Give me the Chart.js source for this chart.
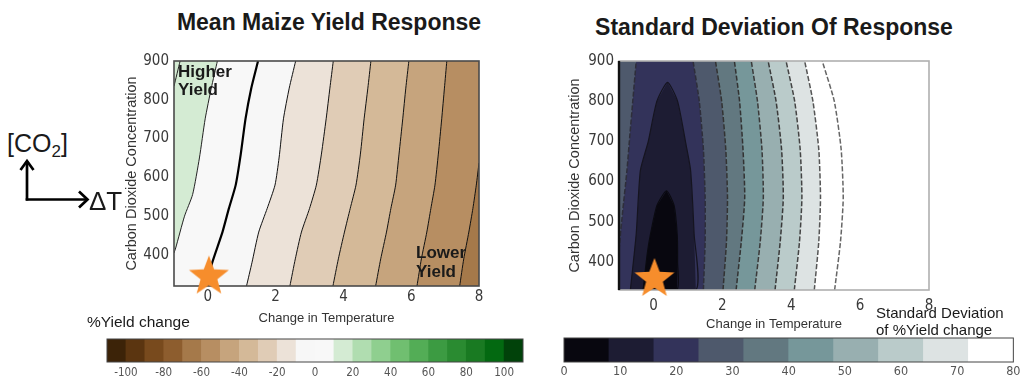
<!DOCTYPE html>
<html>
<head>
<meta charset="utf-8">
<script src="https://cdn.jsdelivr.net/npm/chart.js@4.4.1/dist/chart.umd.min.js"></script>
<style>
body { margin: 0; background: #fff; width: 1023px; height: 378px; position: relative; overflow: hidden; font-family: Arial, "Liberation Sans", sans-serif; color: #1a1a1a; }
canvas, .abs { position: absolute; }
.title { position: absolute; width: 500px; text-align: center; font-weight: bold; font-size: 23px; line-height: 26px; }
.note { position: absolute; font-weight: bold; font-size: 17px; line-height: 18px; }
.lbl { position: absolute; font-size: 15px; line-height: 16px; white-space: nowrap; }
</style>
</head>
<body>
<canvas id="mean" width="400" height="292" style="left:100px;top:40px"></canvas>
<canvas id="sd" width="400" height="292" style="left:555px;top:40px"></canvas>
<canvas id="meanBar" width="450" height="48" style="left:90px;top:330px"></canvas>
<canvas id="sdBar" width="473" height="48" style="left:550px;top:330px"></canvas>

<div class="title" style="left:79px;top:9px">Mean Maize Yield Response</div>
<div class="title" style="left:524px;top:14px">Standard Deviation Of Response</div>
<div class="note" style="left:178px;top:63px">Higher<br>Yield</div>
<div class="note" style="left:416px;top:243px;line-height:19px">Lower<br>Yield</div>
<div class="lbl" style="left:87px;top:314px;font-size:15.5px">%Yield change</div>
<div class="lbl" style="left:876px;top:304px;line-height:17px">Standard Deviation<br>of %Yield change</div>
<div class="lbl" style="left:7px;top:131px;font-size:25px;line-height:25px">[CO<sub style="font-size:17px;vertical-align:-5px">2</sub>]</div>
<div class="lbl" style="left:89px;top:188px;font-size:26px;line-height:26px">&Delta;T</div>
<svg class="abs" style="left:0;top:0" width="100" height="230">
  <g fill="none" stroke="#000" stroke-width="2.7">
    <line x1="27" y1="200.5" x2="27" y2="161"/>
    <polyline points="20.5,170 27,161 33.5,170"/>
    <line x1="25.7" y1="199.5" x2="87" y2="199.5"/>
    <polyline points="79,191.5 87.5,199.5 79,207.5"/>
  </g>
</svg>

<script>
// ---- mean yield response: contour lines [ΔT, CO2], read bottom to top ----
const meanXTicks = [0, 2, 4, 6, 8];
const meanYTicks = [400, 500, 600, 700, 800, 900];
const meanPlus20 = [[-1, 835], [-0.82, 900]];
const meanPlus10 = [[-1, 405], [-0.95, 418], [-0.69, 500], [-0.45, 556], [-0.25, 650], [-0.08, 751], [0.1, 830], [0.28, 900]];
const meanZero = [[0, 320], [0.05, 350], [0.13, 381], [0.43, 459], [0.62, 520], [0.82, 580], [0.97, 660], [1.11, 751], [1.28, 830], [1.48, 900]];
const meanMinus10 = [[1.14, 320], [1.3, 380], [1.5, 459], [1.75, 520], [1.98, 580], [2.1, 650], [2.23, 751], [2.4, 830], [2.59, 900]];
const meanMinus20 = [[2.42, 320], [2.58, 390], [2.76, 459], [3.0, 520], [3.2, 580], [3.35, 660], [3.49, 751], [3.6, 830], [3.7, 900]];
const meanMinus30 = [[3.69, 320], [3.85, 390], [4.03, 459], [4.2, 520], [4.37, 580], [4.5, 660], [4.61, 751], [4.72, 830], [4.81, 900]];
const meanMinus40 = [[4.95, 320], [5.1, 390], [5.27, 459], [5.4, 520], [5.54, 580], [5.64, 660], [5.75, 751], [5.84, 830], [5.93, 900]];
const meanMinus50 = [[6.17, 320], [6.3, 390], [6.46, 459], [6.58, 520], [6.7, 580], [6.8, 660], [6.9, 751], [6.98, 830], [7.05, 900]];
const meanMinus60 = [[7.43, 320], [7.55, 390], [7.7, 459], [7.82, 520], [7.92, 580], [8, 637]];

// colour bar of %yield change
const meanLevels = [-110, -100, -90, -80, -70, -60, -50, -40, -30, -20, -10, 0, 10, 20, 30, 40, 50, 60, 70, 80, 90, 100, 110];
const meanBarTicks = [-100, -80, -60, -40, -20, 0, 20, 40, 60, 80, 100];
const meanColors = ['#3c2308', '#5b3510', '#784a1d', '#8d5d2e', '#a5794a', '#b78e62', '#c6a47d', '#d4b998', '#e0ccb6', '#ece2d8', '#f7f7f7',
  '#f8f8f8', '#d4ebd3', '#b0ddb0', '#8fcf8f', '#70bf70', '#53ad56', '#3c9b42', '#2a8b31', '#197a22', '#036911', '#01420a'];

// ---- standard deviation of response: contour lines [ΔT, CO2] ----
const sdXTicks = [0, 2, 4, 6, 8];
const sdYTicks = [400, 500, 600, 700, 800, 900];
const sdLineA = [[-1, 430], [-0.9, 520], [-0.77, 627], [-0.68, 720], [-0.6, 800], [-0.5, 900]];
const sdLineB = [[1.45, 330], [1.5, 450], [1.5, 560], [1.45, 680], [1.33, 800], [1.15, 900]];
const sdLineC = [[2.02, 330], [2.12, 450], [2.15, 560], [2.1, 680], [1.98, 800], [1.8, 900]];
const sdLineD = [[2.4, 330], [2.55, 450], [2.65, 560], [2.6, 680], [2.5, 800], [2.35, 900]];
const sdLineE = [[2.94, 330], [3.1, 450], [3.19, 560], [3.15, 680], [3.02, 800], [2.84, 900]];
const sdLineF = [[3.53, 330], [3.68, 450], [3.77, 560], [3.72, 680], [3.56, 800], [3.33, 900]];
const sdLineG = [[4.09, 330], [4.24, 450], [4.31, 560], [4.26, 680], [4.1, 800], [3.85, 900]];
const sdLineH = [[4.67, 330], [4.8, 450], [4.85, 560], [4.8, 680], [4.63, 800], [4.39, 900]];
const sdLineI = [[5.26, 330], [5.43, 450], [5.51, 560], [5.45, 680], [5.25, 800], [4.9, 900]];
const sdLoop16 = [[-0.67, 330], [-0.5, 470], [-0.38, 627], [-0.15, 700], [0.1, 800], [0.41, 847], [0.7, 800], [0.95, 690], [1.08, 627], [1.18, 470], [1.23, 330]];
const sdLoop8 = [[-0.3, 330], [-0.18, 420], [-0.09, 467], [0.1, 540], [0.38, 577], [0.6, 540], [0.69, 467], [0.7, 400], [0.68, 330]];

// colour bar of standard deviation
const sdLevels = [0, 8, 16, 24, 32, 40, 48, 56, 64, 72, 80];
const sdBarTicks = [0, 10, 20, 30, 40, 50, 60, 70, 80];
const sdColors = ['#08070f', '#1d1c33', '#33335a', '#4e596c', '#627880', '#76979a', '#98afb0', '#bacbca', '#dde3e3', '#ffffff'];

// present climate marker
const meanStar = {x: 0.03, y: 347};
const sdStar = {x: 0.03, y: 360};

const tickFont = '"Liberation Sans Narrow", "Arial Narrow", "DejaVu Sans Condensed", Arial, sans-serif';
const labelFont = 'Arial, "Liberation Sans", sans-serif';

function pts(list) {
  return list.map(p => ({x: p[0], y: p[1]}));
}

// polygon covering the plot to the left of a contour line
function leftOf(line, box) {
  const out = [[box.xMin, box.yMin]].concat(line);
  const last = line[line.length - 1];
  if (last[1] < box.yMax) out.push([box.xMax, box.yMax]);
  out.push([box.xMin, box.yMax]);
  return pts(out);
}

function starImage(r, color) {
  const c = document.createElement('canvas');
  c.width = c.height = Math.ceil(2 * r) + 2;
  const g = c.getContext('2d');
  const cx = c.width / 2, cy = c.height / 2 + 1;
  g.beginPath();
  for (let i = 0; i < 10; i++) {
    const rr = i % 2 ? r * 0.42 : r;
    const a = -Math.PI / 2 + i * Math.PI / 5;
    g.lineTo(cx + rr * Math.cos(a), cy + rr * Math.sin(a));
  }
  g.closePath();
  g.fillStyle = color;
  g.fill();
  return c;
}

const framePlugin = {
  id: 'frame',
  defaults: {color: '#333', width: 1, leftColor: '', before: ''},
  beforeDatasetDraw(chart, args, opts) {
    if (opts.before && chart.data.datasets[args.index].label === opts.before) drawFrame(chart, opts);
  },
  afterDatasetsDraw(chart, args, opts) {
    if (!opts.before) drawFrame(chart, opts);
  }
};

function drawFrame(chart, opts) {
  const {ctx, chartArea: a} = chart;
  ctx.save();
  ctx.strokeStyle = opts.color;
  ctx.lineWidth = opts.width;
  ctx.strokeRect(a.left, a.top, a.right - a.left, a.bottom - a.top);
  if (opts.leftColor) {
    ctx.strokeStyle = opts.leftColor;
    ctx.lineWidth = opts.width + 0.8;
    ctx.beginPath();
    ctx.moveTo(a.left, a.top);
    ctx.lineTo(a.left, a.bottom);
    ctx.stroke();
  }
  ctx.restore();
}
Chart.register(framePlugin);

function contourChart(id, s) {
  const datasets = [];
  s.fills.forEach(f => datasets.push({
    data: f.data, showLine: true, fill: 'shape', backgroundColor: f.color,
    borderWidth: 0, borderColor: 'transparent', pointRadius: 0, tension: 0
  }));
  s.lines.forEach(l => datasets.push({
    data: l.data, showLine: true, fill: false, borderColor: l.color, borderWidth: l.width,
    borderDash: l.dash || [], pointRadius: 0, tension: 0.2
  }));
  datasets.push({
    label: 'star', data: [s.star], showLine: false, pointStyle: starImage(21, '#f68d2c'),
    pointRadius: 20, clip: false
  });
  datasets.forEach((d, i) => { d.order = datasets.length - i; });

  new Chart(document.getElementById(id), {
    type: 'scatter',
    data: {datasets: datasets},
    options: {
      responsive: false,
      animation: false,
      events: [],
      layout: {padding: {left: 0, top: s.padTop, right: s.padRight, bottom: 0}},
      plugins: {
        legend: {display: false},
        tooltip: {enabled: false},
        frame: s.frame
      },
      scales: {
        x: {
          type: 'linear', min: s.box.xMin, max: s.box.xMax,
          afterBuildTicks: sc => { sc.ticks = s.xTicks.map(v => ({value: v})); },
          afterFit: sc => { sc.height = s.xAxisH; },
          grid: {display: false, drawTicks: false},
          border: {display: false},
          ticks: {color: '#3a3a3a', padding: s.xTickPad, font: {family: tickFont, size: 15}},
          title: {display: true, text: 'Change in Temperature', color: '#333',
            font: {family: labelFont, size: 13}, padding: {top: 0, bottom: s.xTitlePad}}
        },
        y: {
          type: 'linear', min: s.box.yMin, max: s.box.yMax,
          afterBuildTicks: sc => { sc.ticks = s.yTicks.map(v => ({value: v})); },
          afterFit: sc => { sc.width = s.yAxisW; },
          grid: {display: false, drawTicks: false},
          border: {display: false},
          ticks: {color: '#3a3a3a', padding: 5, font: {family: tickFont, size: 15}},
          title: {display: true, text: 'Carbon Dioxide Concentration', color: '#333',
            font: {family: labelFont, size: 14.5}, padding: {top: s.yTitlePad, bottom: 0}}
        }
      }
    }
  });
}

function colorBar(id, s) {
  const bands = [];
  for (let i = 0; i < s.levels.length - 1; i++) bands.push({x: [s.levels[i], s.levels[i + 1]], y: 'bar'});
  new Chart(document.getElementById(id), {
    type: 'bar',
    data: {labels: ['bar'], datasets: [{data: bands, backgroundColor: s.colors, borderWidth: 0,
      barPercentage: 1, categoryPercentage: 1}]},
    options: {
      indexAxis: 'y',
      responsive: false,
      animation: false,
      events: [],
      layout: {padding: {left: s.padLeft, top: s.padTop, right: s.padRight, bottom: 0}},
      plugins: {legend: {display: false}, tooltip: {enabled: false}, frame: {color: '#444', width: 1}},
      scales: {
        x: {
          type: 'linear', min: s.levels[0], max: s.levels[s.levels.length - 1],
          afterBuildTicks: sc => { sc.ticks = s.ticks.map(v => ({value: v})); },
          afterFit: sc => { sc.height = 16; },
          grid: {display: false, drawTicks: false},
          border: {display: false},
          ticks: {color: '#555', padding: s.tickPad, font: {family: tickFont, size: s.fontSize}}
        },
        y: {display: false}
      }
    }
  });
}

// left panel
const meanBox = {xMin: -1, xMax: 8, yMin: 320, yMax: 900};
const meanBand = lo => meanColors[meanLevels.indexOf(lo)];
contourChart('mean', {
  box: meanBox, xTicks: meanXTicks, yTicks: meanYTicks, star: meanStar,
  padTop: 9, padRight: 17, xAxisH: 46, yAxisW: 74, xTickPad: 2, xTitlePad: 6, yTitlePad: 23,
  frame: {color: '#4a4a4a', width: 1.6, before: 'star'},
  fills: [
    {data: pts([[-1, 320], [8, 320], [8, 900], [-1, 900]]), color: meanBand(-70)},
    {data: leftOf(meanMinus60, meanBox), color: meanBand(-60)},
    {data: leftOf(meanMinus50, meanBox), color: meanBand(-50)},
    {data: leftOf(meanMinus40, meanBox), color: meanBand(-40)},
    {data: leftOf(meanMinus30, meanBox), color: meanBand(-30)},
    {data: leftOf(meanMinus20, meanBox), color: meanBand(-20)},
    {data: leftOf(meanMinus10, meanBox), color: meanBand(-10)},
    {data: leftOf(meanZero, meanBox), color: meanBand(0)},
    {data: leftOf(meanPlus10, meanBox), color: meanBand(10)}
  ],
  lines: [
    {data: pts(meanPlus20), color: '#222', width: 1},
    {data: pts(meanPlus10), color: '#222', width: 1},
    {data: pts(meanZero), color: '#000', width: 2.2},
    {data: pts(meanMinus10), color: '#111', width: 1},
    {data: pts(meanMinus20), color: '#111', width: 1},
    {data: pts(meanMinus30), color: '#111', width: 1},
    {data: pts(meanMinus40), color: '#111', width: 1},
    {data: pts(meanMinus50), color: '#111', width: 1},
    {data: pts(meanMinus60), color: '#111', width: 1}
  ]
});

// right panel
const sdBox = {xMin: -1, xMax: 8, yMin: 330, yMax: 900};
const sdBand = lo => sdColors[sdLevels.indexOf(lo)];
const sdDash = [5, 2];
contourChart('sd', {
  box: sdBox, xTicks: sdXTicks, yTicks: sdYTicks, star: sdStar,
  padTop: 13, padRight: 26, xAxisH: 42, yAxisW: 64, xTickPad: 7, xTitlePad: 0, yTitlePad: 11,
  frame: {color: '#b0b0b0', width: 1.6, leftColor: '#111', before: 'star'},
  fills: [
    {data: pts([[-1, 330], [8, 330], [8, 900], [-1, 900]]), color: '#ffffff'},
    {data: leftOf(sdLineI, sdBox), color: sdBand(72)},
    {data: leftOf(sdLineH, sdBox), color: sdBand(64)},
    {data: leftOf(sdLineG, sdBox), color: sdBand(56)},
    {data: leftOf(sdLineF, sdBox), color: sdBand(48)},
    {data: leftOf(sdLineE, sdBox), color: sdBand(40)},
    {data: leftOf(sdLineD, sdBox), color: sdBand(32)},
    {data: leftOf(sdLineC, sdBox), color: sdBand(24)},
    {data: leftOf(sdLineB, sdBox), color: sdBand(16)},
    {data: leftOf(sdLineA, sdBox), color: sdBand(24)},
    {data: pts(sdLoop16), color: sdBand(8)},
    {data: pts(sdLoop8), color: sdBand(0)}
  ],
  lines: [
    {data: pts(sdLineA), color: '#2e2e3a', width: 1.5, dash: sdDash},
    {data: pts(sdLineB), color: '#2e2e3a', width: 1.5, dash: sdDash},
    {data: pts(sdLineC), color: '#333', width: 1.5, dash: sdDash},
    {data: pts(sdLineD), color: '#333', width: 1.5, dash: sdDash},
    {data: pts(sdLineE), color: '#3a3a3a', width: 1.5, dash: sdDash},
    {data: pts(sdLineF), color: '#3a3a3a', width: 1.5, dash: sdDash},
    {data: pts(sdLineG), color: '#444', width: 1.5, dash: sdDash},
    {data: pts(sdLineH), color: '#555', width: 1.5, dash: sdDash},
    {data: pts(sdLineI), color: '#666', width: 1.5, dash: sdDash},
    {data: pts(sdLoop16.concat([sdLoop16[0]])), color: '#15141f', width: 1.2},
    {data: pts(sdLoop8.concat([sdLoop8[0]])), color: '#0a0a10', width: 1.2}
  ]
});

colorBar('meanBar', {levels: meanLevels, colors: meanColors, ticks: meanBarTicks,
  padLeft: 17, padTop: 9, padRight: 17, tickPad: 4, fontSize: 11.5});
colorBar('sdBar', {levels: sdLevels, colors: sdColors, ticks: sdBarTicks,
  padLeft: 14, padTop: 8, padRight: 7, tickPad: 2.5, fontSize: 12.5});
</script>
</body>
</html>
